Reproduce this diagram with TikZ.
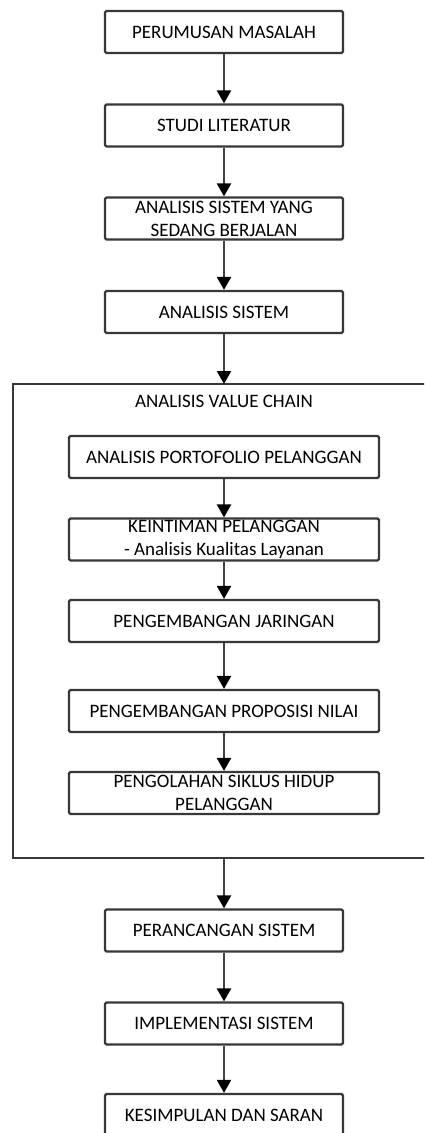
\documentclass[tikz,border=0pt]{standalone}
\usepackage{fontspec}
\setmainfont{Carlito}
\usetikzlibrary{arrows.meta}
\begin{document}
\begin{tikzpicture}[x=1pt,y=-1pt,
  stepbox/.style={draw=black!78,line width=2.2pt,rounded corners=1.5pt,align=center,
    inner sep=0pt,font=\fontsize{19}{23}\selectfont,text=black},
  outerbox/.style={stepbox,minimum width=238pt,minimum height=42pt},
  innerbox/.style={stepbox,minimum width=310pt,minimum height=42pt},
  conn/.style={draw=black!75,line width=2.2pt,-{Triangle[length=13pt,width=14pt,color=black]}}]
\clip (0,0) rectangle (424,1133);
\fill[white] (0,0) rectangle (424,1133);
% outer column
\node[outerbox] (b1) at (224,32) {PERUMUSAN MASALAH};
\node[outerbox] (b2) at (224,125.5) {STUDI LITERATUR};
\node[outerbox] (b3) at (224,218.5) {ANALISIS SISTEM YANG\\SEDANG BERJALAN};
\node[outerbox] (b4) at (224,312) {ANALISIS SISTEM};
% container
\draw[draw=black!78,line width=2.2pt] (440,384) -- (13,384) -- (13,858) -- (440,858);
\coordinate (ctop) at (224,384);
\coordinate (cbot) at (224,858);
\node[font=\fontsize{19}{23}\selectfont] (title) at (224,401) {ANALISIS VALUE CHAIN};
\node[innerbox] (b5) at (224,457) {ANALISIS PORTOFOLIO PELANGGAN};
\node[innerbox] (b6) at (224,539.5) {KEINTIMAN PELANGGAN\\- Analisis Kualitas Layanan};
\node[innerbox] (b7) at (224,621) {PENGEMBANGAN JARINGAN};
\node[innerbox] (b8) at (224,711) {PENGEMBANGAN PROPOSISI NILAI};
\node[innerbox] (b9) at (224,793) {PENGOLAHAN SIKLUS HIDUP\\PELANGGAN};
% lower column
\node[outerbox] (b10) at (224,930.5) {PERANCANGAN SISTEM};
\node[outerbox] (b11) at (224,1023.5) {IMPLEMENTASI SISTEM};
\node[outerbox] (b12) at (224,1115) {KESIMPULAN DAN SARAN};
% connectors
\draw[conn] (b1) -- (b2);
\draw[conn] (b2) -- (b3);
\draw[conn] (b3) -- (b4);
\draw[conn] (b4) -- (ctop);
\draw[conn] (b5) -- (b6);
\draw[conn] (b6) -- (b7);
\draw[conn] (b7) -- (b8);
\draw[conn] (b8) -- (b9);
\draw[conn] (cbot) -- (b10);
\draw[conn] (b10) -- (b11);
\draw[conn] (b11) -- (b12);
\end{tikzpicture}
\end{document}
